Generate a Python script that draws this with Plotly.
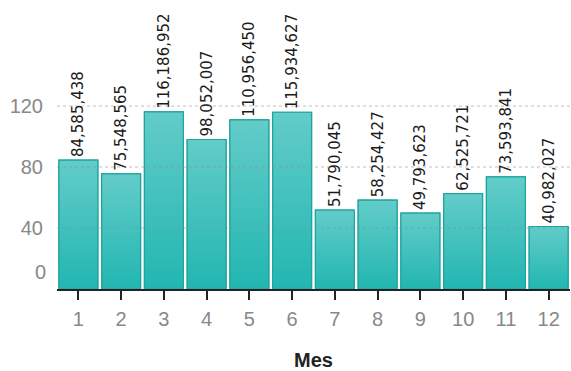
import plotly.graph_objects as go

months = [str(i) for i in range(1, 13)]
values = [84585438, 75548565, 116186952, 98052007, 110956450, 115934627,
          51790045, 58254427, 49793623, 62525721, 73593841, 40982027]
y_ticks = [40, 80, 120]

y = [v / 1e6 for v in values]
labels = [f"{v:,}" for v in values]
pos = list(range(1, len(months) + 1))
bar_w = 0.91

fig = go.Figure()
# bar trace carrying the value labels
fig.add_trace(go.Bar(
    x=pos, y=y, width=bar_w, text=labels, textposition="outside", textangle=-90,
    cliponaxis=False, constraintext="none",
    textfont=dict(family="DejaVu Sans", size=15, color="#1a1a1a"),
    marker=dict(color="#45C0BC", line=dict(color="#1FA49F", width=1.2)),
    hoverinfo="skip",
))
# gradient fill for each bar
for p, v in zip(pos, y):
    x0, x1 = p - bar_w / 2, p + bar_w / 2
    fig.add_trace(go.Scatter(
        x=[x0, x1, x1, x0, x0], y=[0, 0, v, v, 0],
        mode="lines", fill="toself",
        fillgradient=dict(type="vertical",
                          colorscale=[[0, "#22B6B1"], [1, "#63CCC9"]]),
        line=dict(color="#1FA49F", width=1.2),
        hoverinfo="skip", showlegend=False,
    ))

shapes = [dict(type="line", xref="paper", x0=0, x1=1, yref="y", y0=t, y1=t,
               line=dict(color="rgba(140,140,140,0.55)", width=1, dash="3px,3px"),
               layer="above") for t in y_ticks]

fig.update_layout(
    width=571, height=371,
    margin=dict(l=57, r=1, t=10, b=82),
    paper_bgcolor="white", plot_bgcolor="white",
    showlegend=False,
    font=dict(family="Liberation Sans, Arial, sans-serif"),
    shapes=shapes,
    xaxis=dict(
        range=[0.5, len(months) + 0.5],
        tickvals=pos, ticktext=months,
        showline=True, linecolor="#222222", linewidth=1.5, layer="above traces",
        ticks="outside", ticklen=9, tickcolor="#222222", tickwidth=1.5,
        ticklabelstandoff=2,
        tickfont=dict(size=20, color="#888888"),
        title=dict(text="<b>Mes</b>", font=dict(size=20, color="#222222"), standoff=26),
        showgrid=False, zeroline=False,
    ),
    yaxis=dict(
        range=[0, 183],
        tickvals=y_ticks,
        tickfont=dict(size=20, color="#888888"),
        showgrid=False,
        zeroline=False, showline=False,
        ticks="outside", ticklen=9, tickcolor="rgba(0,0,0,0)",
    ),
    annotations=[dict(
        text="0", xref="paper", yref="y", x=0, y=11, xanchor="right",
        xshift=-9, showarrow=False, font=dict(size=20, color="#888888"),
    )],
)

fig.write_html("out.html")
